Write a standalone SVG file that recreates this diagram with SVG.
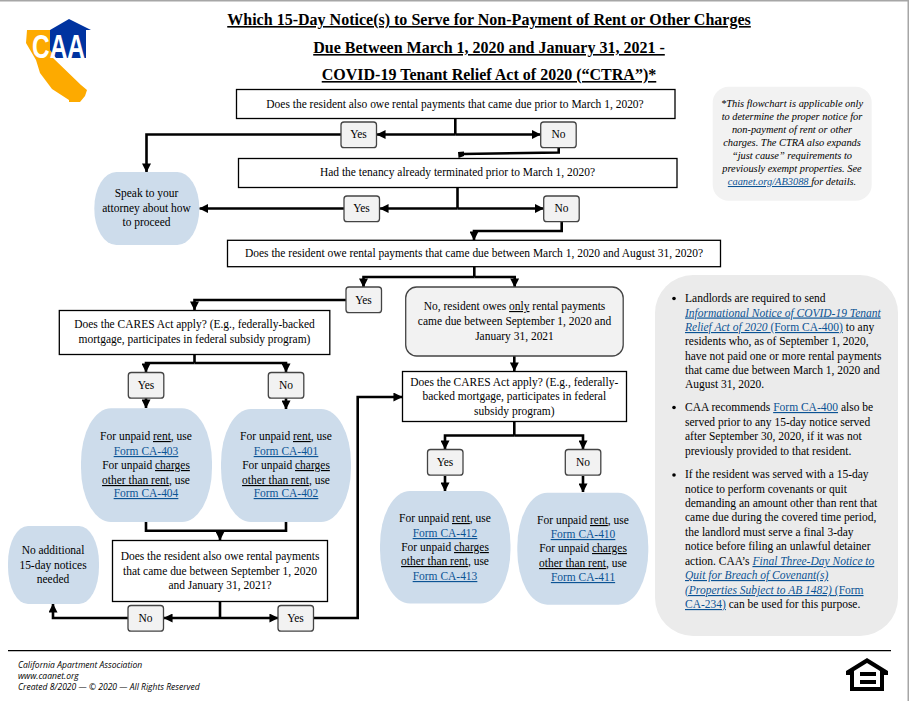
<svg xmlns="http://www.w3.org/2000/svg" width="909" height="701" viewBox="0 0 909 701">
<style>
text{font-family:"Liberation Serif","Times New Roman",serif;font-size:11.47px;fill:#000;text-anchor:middle}
.title{font-size:16.03px;font-weight:bold}
.u{text-decoration:underline}
.lnk{fill:#0b5394;text-decoration:underline}
.box{fill:#fff;stroke:#000;stroke-width:1.3}
.btn{fill:#f2f2f2;stroke:#444;stroke-width:1.3}
.leaf{fill:#cddceb}
.note{font-size:10.4px;font-style:italic}
.side{text-anchor:start;font-size:11.5px}
.foot{font-family:"Open Sans",sans-serif;font-size:8.55px;font-style:italic;text-anchor:start}
.c{fill:none;stroke:#000;stroke-width:2.6}
.a{stroke:none;fill:#000}
</style>
<defs>
<marker id="ah" viewBox="0 0 10 10" refX="9.5" refY="5" markerWidth="9" markerHeight="9" markerUnits="userSpaceOnUse" orient="auto"><path d="M0 0L10 5L0 10Z" fill="#000"/></marker>
</defs>
<rect width="909" height="701" fill="#fff"/>
<rect x="0" y="0" width="909" height="1.5" fill="#a6a6a6"/>
<rect x="907.5" y="0" width="1.5" height="701" fill="#a6a6a6"/>

<g id="logo">
<path d="M27 30H53V58L81 85L87 90L85 96L80 102H69V100L52 89L40 73L36 60L26 43Z" fill="#fdaa00"/>
<path d="M50 30L69 19L91 30H86V58H56L50 50Z" fill="#0033a0"/>
<text x="58.5" y="57.5" style="font-family:'Liberation Sans',sans-serif;font-size:33px;font-weight:bold;fill:#fff" textLength="53" lengthAdjust="spacingAndGlyphs">CAA</text>
</g>

<g id="title">
<text class="title u" x="489" y="25">Which 15-Day Notice(s) to Serve for Non-Payment of Rent or Other Charges</text>
<text class="title u" x="489" y="53">Due Between March 1, 2020 and January 31, 2021 -</text>
<text class="title u" x="489" y="80">COVID-19 Tenant Relief Act of 2020 (“CTRA”)*</text>
</g>

<g id="connectors">
<path class="c" d="M455.3 118V134.5"/>
<path class="c" marker-end="url(#ah)" d="M455.3 134.5H377"/>
<path class="c" marker-end="url(#ah)" d="M455.3 134.5H540.5"/>
<path class="c" marker-end="url(#ah)" d="M341 134.5H146.5V172"/>
<path class="c" d="M558.7 148V152.5L462 154"/>
<path class="a" d="M458.5 158L458 152L464 151.5L464 156Z"/>
<path class="c" d="M457.5 187V208.5"/>
<path class="c" marker-end="url(#ah)" d="M457.5 208.5H380"/>
<path class="c" marker-end="url(#ah)" d="M457.5 208.5H543.5"/>
<path class="c" marker-end="url(#ah)" d="M344 208.5H199.5"/>
<path class="c" marker-end="url(#ah)" d="M561.7 221.5V231H474V240"/>
<path class="c" d="M474.3 266V277"/>
<path class="c" marker-end="url(#ah)" d="M474.3 277H363.5V287"/>
<path class="c" marker-end="url(#ah)" d="M474.3 277H514.7V287"/>
<path class="c" marker-end="url(#ah)" d="M346 300H194.5V310"/>
<path class="c" d="M194.5 354V363"/>
<path class="c" marker-end="url(#ah)" d="M194.5 363H146V372"/>
<path class="c" marker-end="url(#ah)" d="M194.5 363H286V372"/>
<path class="c" marker-end="url(#ah)" d="M146 398V408"/>
<path class="c" marker-end="url(#ah)" d="M286 398V409"/>
<path class="c" d="M146 522V530.7H286V522"/>
<path class="c" marker-end="url(#ah)" d="M220 530.7V540"/>
<path class="c" d="M220 602V618"/>
<path class="c" marker-end="url(#ah)" d="M220 618H164"/>
<path class="c" marker-end="url(#ah)" d="M220 618H278"/>
<path class="c" marker-end="url(#ah)" d="M128 618H53V604"/>
<path class="c" marker-end="url(#ah)" d="M313.5 618H357.7V397H402"/>
<path class="c" marker-end="url(#ah)" d="M514.3 356V371"/>
<path class="c" d="M514.3 421.7V435.5"/>
<path class="c" marker-end="url(#ah)" d="M514.3 435.5H445V449"/>
<path class="c" marker-end="url(#ah)" d="M514.3 435.5H583V449"/>
<path class="c" marker-end="url(#ah)" d="M445 476V491"/>
<path class="c" marker-end="url(#ah)" d="M583 476V492"/>
</g>

<g id="q1"><rect class="box" x="236.5" y="89.5" width="438.5" height="29"/><text x="455" y="108">Does the resident also owe rental payments that came due prior to March 1, 2020?</text></g>
<g id="q1-yes"><rect class="btn" x="341" y="122" width="35.5" height="25.7" rx="3"/><text x="358.5" y="138">Yes</text></g>
<g id="q1-no"><rect class="btn" x="540.7" y="122" width="35.5" height="25.7" rx="3"/><text x="558.5" y="138">No</text></g>
<g id="q2"><rect class="box" x="238.5" y="158.5" width="438.5" height="29"/><text x="457.5" y="176">Had the tenancy already terminated prior to March 1, 2020?</text></g>
<g id="q2-yes"><rect class="btn" x="344" y="196" width="35.5" height="25.7" rx="3"/><text x="361.5" y="212">Yes</text></g>
<g id="q2-no"><rect class="btn" x="543.7" y="196" width="35.5" height="25.7" rx="3"/><text x="561.5" y="212">No</text></g>
<g id="attorney"><rect class="leaf" x="94.3" y="172" width="105" height="73" rx="22" ry="36"/><text x="146.5" y="197">Speak to your</text><text x="146.5" y="212">attorney about how</text><text x="146.5" y="226">to proceed</text></g>
<g id="q3"><rect class="box" x="227.5" y="240.3" width="493" height="26.4"/><text x="474" y="257">Does the resident owe rental payments that came due between March 1, 2020 and August 31, 2020?</text></g>
<g id="q3-yes"><rect class="btn" x="346" y="287" width="35.5" height="25.7" rx="3"/><text x="363.5" y="304">Yes</text></g>
<g id="q3-no"><rect class="btn" x="405.7" y="287" width="217.5" height="69" rx="11"/><text x="514.5" y="310">No, resident owes <tspan class="u">only</tspan> rental payments</text><text x="514.5" y="325">came due between September 1, 2020 and</text><text x="514.5" y="340">January 31, 2021</text></g>
<g id="cares-left"><rect class="box" x="59.3" y="310.5" width="270.5" height="44"/><text x="194.5" y="328">Does the CARES Act apply? (E.g., federally-backed</text><text x="194.5" y="343">mortgage, participates in federal subsidy program)</text></g>
<g id="cl-yes"><rect class="btn" x="128.3" y="372.5" width="35.5" height="25.7" rx="3"/><text x="146" y="389">Yes</text></g>
<g id="cl-no"><rect class="btn" x="268.3" y="372.5" width="35.5" height="25.7" rx="3"/><text x="286" y="389">No</text></g>
<g id="leaf-403"><rect class="leaf" x="81" y="408.3" width="131" height="113.7" rx="30" ry="54"/><text x="146" y="440">For unpaid <tspan class="u">rent</tspan>, use</text><text x="146" y="455" class="lnk">Form CA-403</text><text x="146" y="469">For unpaid <tspan class="u">charges</tspan></text><text x="146" y="484"><tspan class="u">other than rent</tspan>, use</text><text x="146" y="497" class="lnk">Form CA-404</text></g>
<g id="leaf-401"><rect class="leaf" x="221" y="409" width="130" height="113" rx="30" ry="54"/><text x="286" y="440">For unpaid <tspan class="u">rent</tspan>, use</text><text x="286" y="455" class="lnk">Form CA-401</text><text x="286" y="469">For unpaid <tspan class="u">charges</tspan></text><text x="286" y="484"><tspan class="u">other than rent</tspan>, use</text><text x="286" y="497" class="lnk">Form CA-402</text></g>
<g id="q4"><rect class="box" x="112.5" y="540.5" width="215" height="61"/><text x="220" y="560">Does the resident also owe rental payments</text><text x="220" y="575">that came due between September 1, 2020</text><text x="220" y="589">and January 31, 2021?</text></g>
<g id="none"><rect class="leaf" x="8" y="526" width="91" height="78" rx="20" ry="37"/><text x="53" y="554">No additional</text><text x="53" y="569">15-day notices</text><text x="53" y="583">needed</text></g>
<g id="q4-no"><rect class="btn" x="128" y="605.5" width="35.5" height="25.7" rx="3"/><text x="145.5" y="622">No</text></g>
<g id="q4-yes"><rect class="btn" x="278" y="605.5" width="35.5" height="25.7" rx="3"/><text x="295.5" y="622">Yes</text></g>
<g id="cares-right"><rect class="box" x="402.5" y="371.5" width="224" height="50"/><text x="514.3" y="386">Does the CARES Act apply? (E.g., federally-</text><text x="514.3" y="400">backed mortgage, participates in federal</text><text x="514.3" y="415">subsidy program)</text></g>
<g id="cr-yes"><rect class="btn" x="427.5" y="449.5" width="35.5" height="25.7" rx="3"/><text x="445" y="466">Yes</text></g>
<g id="cr-no"><rect class="btn" x="565.3" y="449.5" width="35.5" height="25.7" rx="3"/><text x="583" y="466">No</text></g>
<g id="leaf-412"><rect class="leaf" x="380" y="491" width="130.5" height="112.5" rx="30" ry="54"/><text x="445" y="522">For unpaid <tspan class="u">rent</tspan>, use</text><text x="445" y="537" class="lnk">Form CA-412</text><text x="445" y="551">For unpaid <tspan class="u">charges</tspan></text><text x="445" y="565"><tspan class="u">other than rent</tspan>, use</text><text x="445" y="580" class="lnk">Form CA-413</text></g>
<g id="leaf-410"><rect class="leaf" x="517.3" y="492.7" width="131" height="112" rx="30" ry="54"/><text x="583" y="524">For unpaid <tspan class="u">rent</tspan>, use</text><text x="583" y="538" class="lnk">Form CA-410</text><text x="583" y="552">For unpaid <tspan class="u">charges</tspan></text><text x="583" y="567"><tspan class="u">other than rent</tspan>, use</text><text x="583" y="581" class="lnk">Form CA-411</text></g>

<g id="note"><rect x="712.7" y="86.7" width="159" height="114" rx="16" fill="#f2f2f2"/>
<text class="note" x="792" y="107">*This flowchart is applicable only</text>
<text class="note" x="792" y="120">to determine the proper notice for</text>
<text class="note" x="792" y="133">non-payment of rent or other</text>
<text class="note" x="792" y="146">charges. The CTRA also expands</text>
<text class="note" x="792" y="159">“just cause” requirements to</text>
<text class="note" x="792" y="172">previously exempt properties. See</text>
<text class="note" x="792" y="185"><tspan class="lnk">caanet.org/AB3088 </tspan>for details.</text>
</g>

<g id="panel"><rect x="655" y="275" width="243" height="361" rx="38" fill="#ebebeb"/>
<circle cx="674" cy="298.5" r="1.8"/><circle cx="674" cy="407.5" r="1.8"/><circle cx="674" cy="475" r="1.8"/>
<text class="side" x="685" y="302">Landlords are required to send</text>
<text class="side" x="685" y="316.5"><tspan class="lnk" font-style="italic">Informational Notice of COVID-19 Tenant</tspan></text>
<text class="side" x="685" y="331"><tspan class="lnk" font-style="italic">Relief Act of 2020 </tspan><tspan class="lnk">(Form CA-400)</tspan> to any</text>
<text class="side" x="685" y="345">residents who, as of September 1, 2020,</text>
<text class="side" x="685" y="360">have not paid one or more rental payments</text>
<text class="side" x="685" y="374">that came due between March 1, 2020 and</text>
<text class="side" x="685" y="388">August 31, 2020.</text>
<text class="side" x="685" y="411">CAA recommends <tspan class="lnk">Form CA-400</tspan> also be</text>
<text class="side" x="685" y="426">served prior to any 15-day notice served</text>
<text class="side" x="685" y="440">after September 30, 2020, if it was not</text>
<text class="side" x="685" y="455">previously provided to that resident.</text>
<text class="side" x="685" y="478">If the resident was served with a 15-day</text>
<text class="side" x="685" y="493">notice to perform covenants or quit</text>
<text class="side" x="685" y="507">demanding an amount other than rent that</text>
<text class="side" x="685" y="521">came due during the covered time period,</text>
<text class="side" x="685" y="536">the landlord must serve a final 3-day</text>
<text class="side" x="685" y="550">notice before filing an unlawful detainer</text>
<text class="side" x="685" y="565">action. CAA’s <tspan class="lnk" font-style="italic">Final Three-Day Notice to</tspan></text>
<text class="side" x="685" y="579"><tspan class="lnk" font-style="italic">Quit for Breach of Covenant(s)</tspan></text>
<text class="side" x="685" y="594"><tspan class="lnk" font-style="italic">(Properties Subject to AB 1482) </tspan><tspan class="lnk">(Form</tspan></text>
<text class="side" x="685" y="608"><tspan class="lnk">CA-234)</tspan> can be used for this purpose.</text>
</g>

<g id="footer">
<line x1="8" y1="650.7" x2="891" y2="650.7" stroke="#000" stroke-width="1.2"/>
<text class="foot" x="18" y="668">California Apartment Association</text>
<text class="foot" x="18" y="679">www.caanet.org</text>
<text class="foot" x="18" y="690">Created 8/2020 — © 2020 — All Rights Reserved</text>
<path fill-rule="evenodd" d="M867 658L888 671V675H884V691H850V675H846V671ZM867 663L854 671V687H880V671ZM860 672H876V676H860ZM860 680H876V684H860Z" fill="#000"/>
</g>
</svg>
